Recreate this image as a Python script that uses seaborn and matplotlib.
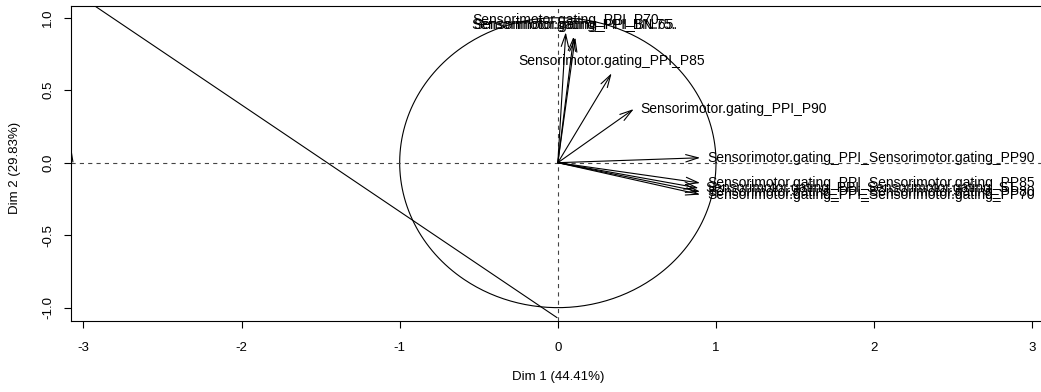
import numpy as np
import pandas as pd
import matplotlib
matplotlib.use("Agg")
import matplotlib.pyplot as plt
import seaborn as sns

# ---- data ----
var_names = [
    "Sensorimotor.gating_PPI_P70",
    "Sensorimotor.gating_PPI_BN.75.",
    "Sensorimotor.gating_PPI_BN.65.",
    "Sensorimotor.gating_PPI_P85",
    "Sensorimotor.gating_PPI_P90",
    "Sensorimotor.gating_PPI_Sensorimotor.gating_PP90",
    "Sensorimotor.gating_PPI_Sensorimotor.gating_PP85",
    "Sensorimotor.gating_PPI_Sensorimotor.gating_ST",
    "Sensorimotor.gating_PPI_Sensorimotor.gating_PP80",
    "Sensorimotor.gating_PPI_Sensorimotor.gating_PP70",
]
dim1 = [0.05, 0.10, 0.11, 0.34, 0.48, 0.90, 0.90, 0.89, 0.90, 0.90]
dim2 = [0.90, 0.87, 0.865, 0.617, 0.37, 0.034, -0.14, -0.175, -0.20, -0.22]
label_side = ["above", "above", "above", "above", "right",
              "right", "right", "right", "right", "right"]

diag_x = [-2.93, -0.005]
diag_y = [1.083, -1.069]
stub_x = [-3.075, -3.066]
stub_y = [0.067, 0.005]

x_ticks = [-3, -2, -1, 0, 1, 2, 3]
y_ticks = [-1.0, -0.5, 0.0, 0.5, 1.0]
x_label = "Dim 1 (44.41%)"
y_label = "Dim 2 (29.83%)"

# ---- style ----
sns.set_theme(style="ticks")
plt.rcParams["font.family"] = ["Liberation Sans", "DejaVu Sans"]
plt.rcParams["lines.scale_dashes"] = False

W, H = 1041, 392
fig = plt.figure(figsize=(W / 100, H / 100), dpi=100)
left_px, right_px, top_px, bot_px = 70.7, 1045.0, 5.7, 320.7
ax = fig.add_axes([left_px / W, 1 - bot_px / H,
                   (right_px - left_px) / W, (bot_px - top_px) / H])
ax.set_facecolor("white")
fig.patch.set_facecolor("white")

lw = 0.8
# unit circle
t = np.linspace(0, 2 * np.pi, 400)
circ = pd.DataFrame({"x": np.cos(t), "y": np.sin(t)})
sns.lineplot(data=circ, x="x", y="y", sort=False, ax=ax, color="black",
             lw=lw, estimator=None)

# reference lines
ax.axhline(0, color="#444444", lw=lw, ls=(0, (3, 3)))
ax.axvline(0, color="#444444", lw=lw, ls=(0, (3, 3)))

# extra lines
sns.lineplot(x=diag_x, y=diag_y, ax=ax, color="black", lw=lw, sort=False,
             estimator=None)
sns.lineplot(x=stub_x, y=stub_y, ax=ax, color="black", lw=lw, sort=False,
             estimator=None)

# arrows
for name, x, y, side in zip(var_names, dim1, dim2, label_side):
    ax.annotate("", xy=(x, y), xytext=(0, 0),
                arrowprops=dict(arrowstyle="->,head_length=0.75,head_width=0.22",
                                color="black", lw=lw, shrinkA=0, shrinkB=0))
    if side == "above":
        ax.annotate(name, xy=(x, y), xytext=(0, 8.5), textcoords="offset points",
                    ha="center", va="center", fontsize=10, color="black")
    else:
        ax.annotate(name, xy=(x, y), xytext=(5, 0), textcoords="offset points",
                    ha="left", va="center", fontsize=10, color="black")

ax.set_xlim(-3.08, 3.08)
ax.set_ylim(-1.09, 1.083)
ax.set_xticks(x_ticks)
ax.set_xticklabels([str(v) for v in x_ticks])
ax.set_yticks(y_ticks)
ax.set_yticklabels([f"{v:.1f}" for v in y_ticks], rotation=90, va="center")
ax.tick_params(axis="both", direction="out", length=5, width=lw, color="black",
               labelsize=9.5, labelcolor="black")
ax.tick_params(axis="x", pad=10)
ax.tick_params(axis="y", pad=7)
for s in ax.spines.values():
    s.set_color("black")
    s.set_linewidth(lw)
    s.set_visible(True)

ax.set_xlabel(x_label, fontsize=9.5, color="black")
ax.set_ylabel(y_label, fontsize=9.5, color="black")
ax.xaxis.set_label_coords(0.5, -(377 - bot_px) / (bot_px - top_px))
ax.yaxis.set_label_coords(-(left_px - 15) / (right_px - left_px),
                          1 - (168 - top_px) / (bot_px - top_px))
ax.xaxis.label.set_va("center")
ax.yaxis.label.set_va("center")
ax.grid(False)

fig.savefig("out.png", dpi=100, facecolor="white")
